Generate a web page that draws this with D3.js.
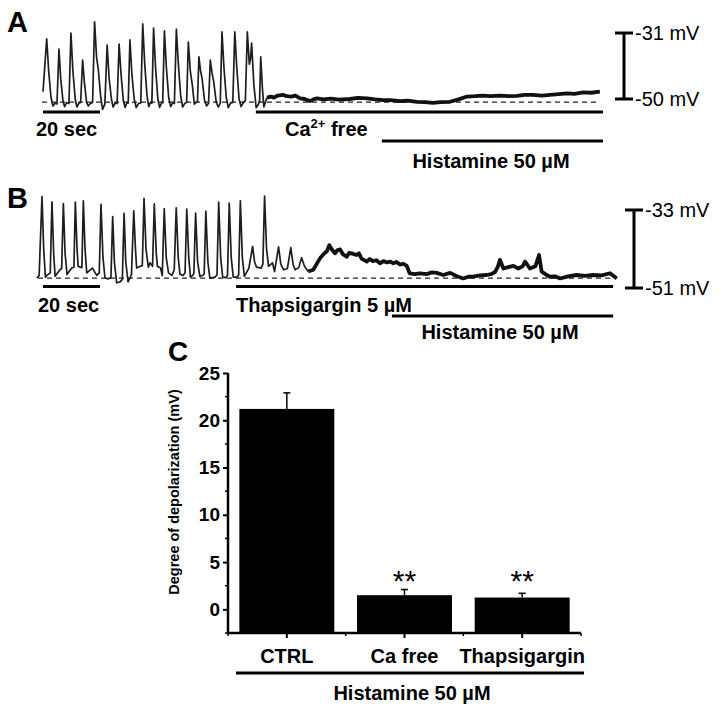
<!DOCTYPE html>
<html><head><meta charset="utf-8">
<script src="https://cdn.jsdelivr.net/npm/d3@7"></script>
<style>
body{margin:0;background:#fff}
svg{display:block;font-family:"Liberation Sans",Arial,sans-serif}
</style>
</head><body>
<svg id="fig" width="722" height="712"></svg>
<script>
// ---------------- DATA ----------------
// Panel A trace: [time (s), membrane potential (mV)]
const traceA_spikes = [
[0,-47.9],[1.3,-32.7],[2.0,-42.0],[2.8,-49.5],[3.5,-52.0],[4.2,-51.2],[4.9,-51.4],
[5.6,-35.6],[6.2,-44.0],[7.0,-50.5],[7.6,-52.2],[8.3,-51.0],[9.1,-51.3],
[9.8,-31.0],[10.5,-42.0],[11.3,-50.0],[11.9,-52.3],[12.6,-51.2],[13.2,-51.0],
[13.9,-38.8],[14.5,-45.0],[15.3,-51.0],[15.9,-52.0],[16.6,-51.3],[17.4,-51.0],
[18.1,-27.8],[18.8,-38.0],[19.4,-41.5],[20.2,-49.0],[20.9,-53.0],[21.7,-51.5],
[22.5,-34.5],[23.2,-44.0],[24.0,-50.0],[24.6,-52.3],[25.3,-51.2],[26.0,-51.3],
[26.7,-34.2],[27.4,-43.0],[28.2,-50.5],[28.8,-52.4],[29.5,-51.0],[29.9,-51.2],
[30.5,-33.0],[31.2,-43.0],[32.0,-50.0],[32.7,-52.5],[33.5,-51.3],[34.3,-51.1],
[35.0,-28.4],[35.7,-40.0],[36.5,-49.0],[37.1,-52.2],[37.7,-51.0],[38.2,-51.2],
[38.8,-29.6],[39.5,-41.0],[40.3,-50.0],[40.9,-52.4],[41.6,-51.2],[42.0,-51.0],
[42.6,-30.4],[43.3,-41.0],[44.1,-49.5],[44.8,-52.2],[45.6,-51.0],[46.1,-51.3],
[46.8,-29.9],[47.5,-40.0],[48.3,-49.0],[49.0,-52.3],[49.8,-51.2],[50.4,-51.0],
[51.0,-33.6],[51.7,-42.0],[52.4,-46.0],[53.1,-51.5],[53.8,-51.0],[54.2,-50.8],
[54.7,-37.9],[55.3,-42.0],[55.8,-44.0],[56.7,-50.5],[57.4,-52.0],[58.1,-51.2],
[58.7,-38.8],[59.3,-42.5],[59.9,-45.0],[60.8,-51.0],[61.5,-52.3],[62.2,-51.2],
[62.8,-30.7],[63.5,-41.0],[64.3,-49.5],[65.0,-52.5],[65.8,-51.2],[66.6,-51.0],
[67.3,-30.7],[68.0,-41.0],[68.8,-50.0],[69.5,-52.2],[70.3,-51.0],[71.0,-50.5],
[71.7,-30.7],[72.4,-40.0],[72.8,-38.5],[73.2,-33.9],[74.0,-46.0],[74.8,-52.5],[75.6,-51.5],[76.0,-50.5],
[76.4,-37.9],[77.0,-47.0],[77.5,-52.3],[78.0,-51.0],[78.6,-49.6]
];
const traceA_flat = [
[78.6,-49.6],[80.0,-49.3],[81.0,-49.6],[82.4,-49.0],[84.2,-48.8],[85.5,-49.2],[87.0,-49.3],[88.6,-49.0],
[90.2,-49.8],[91.8,-50.0],[93.7,-50.6],[94.9,-50.1],[96.1,-49.8],[98.5,-50.1],[101.0,-49.9],[104.0,-50.2],
[107.7,-50.0],[110.5,-49.7],[113.7,-49.8],[116.5,-50.1],[119.3,-50.3],[122.0,-50.3],[125.3,-50.6],
[128.0,-50.5],[131.2,-50.8],[134.0,-50.9],[136.8,-51.1],[139.5,-50.9],[142.8,-50.8],[145.8,-50.1],
[148.8,-49.3],[151.5,-49.2],[154.4,-49.0],[157.0,-49.2],[160.4,-49.0],[163.5,-49.2],[166.3,-49.1],
[169.0,-48.8],[171.9,-48.8],[175.0,-49.0],[177.9,-48.8],[181.0,-48.6],[183.9,-48.4],[186.5,-48.5],
[189.5,-48.1],[192.3,-48.2],[195.4,-47.9]
];
const baselineA = -50.9;
const scaleBarA = [-31, -50];
const annotA = [
  {label:"20 sec", t0:0, t1:20, row:0},
  {label:"Ca free", t0:74.7, t1:196.5, row:0},
  {label:"Histamine 50 µM", t0:118.9, t1:196.5, row:1}
];

// Panel B trace
const traceB_spikes = [
[-0.4,-48.7],[0.4,-48.1],[1.4,-29.9],[2.0,-42.0],[2.6,-48.5],[3.1,-48.1],[4.3,-47.5],
[4.9,-31.1],[5.5,-43.0],[6.0,-48.3],[7.7,-46.8],[8.3,-46.5],
[8.9,-31.5],[9.5,-43.0],[10.2,-47.9],[11.8,-46.4],[12.6,-46.2],
[13.1,-31.2],[13.7,-42.0],[14.1,-46.0],[15.4,-46.3],
[15.9,-30.9],[16.5,-42.0],[17.1,-47.5],[19.1,-46.4],[20.6,-48.1],[21.5,-47.5],
[22.1,-31.7],[22.8,-44.0],[23.5,-48.7],[24.6,-48.9],[25.6,-48.5],
[26.2,-34.5],[26.8,-45.0],[27.6,-49.8],[28.8,-49.6],[29.6,-49.0],
[30.2,-33.8],[30.8,-45.0],[31.6,-49.6],[32.8,-47.9],
[33.6,-33.2],[34.2,-42.0],[34.6,-46.4],[35.8,-46.0],[36.6,-45.8],
[37.2,-30.3],[37.9,-42.0],[38.7,-46.2],[39.3,-45.2],[40.2,-46.0],
[40.8,-31.6],[41.5,-43.0],[41.9,-46.0],[43.0,-46.4],[43.6,-48.1],
[44.3,-32.7],[45.0,-44.0],[45.8,-47.5],[47.0,-48.1],[47.8,-46.8],
[48.5,-32.5],[49.2,-44.0],[49.8,-47.8],[50.9,-48.1],[51.6,-47.5],
[52.2,-32.8],[52.9,-44.0],[53.5,-48.5],[54.3,-48.1],[54.7,-47.6],
[55.3,-33.7],[56.0,-45.0],[56.8,-48.3],[57.8,-48.1],[58.3,-47.8],
[58.9,-33.3],[59.6,-45.0],[60.3,-48.7],[62.1,-48.5],[62.8,-48.0],
[63.4,-31.2],[64.1,-44.0],[64.8,-48.5],[66.0,-48.6],[66.5,-48.0],
[67.1,-31.4],[67.8,-44.0],[68.5,-48.5],[69.9,-48.5],[70.4,-48.0],
[71.0,-30.9],[71.7,-44.0],[72.4,-48.3],[74.0,-46.4],
[75.3,-41.4],[76.0,-45.0],[76.7,-46.2],[78.3,-46.4],[78.9,-45.5],
[79.5,-29.8],[80.2,-42.0],[80.9,-46.0],[82.3,-45.2],[83.0,-47.2],
[84.4,-41.5],[85.2,-45.5],[86.2,-46.8],[87.5,-46.5],
[88.7,-41.7],[89.5,-45.5],[90.2,-46.8],[91.5,-46.3],
[92.5,-44.0],[93.5,-46.0],[94.8,-47.2]
];
const traceB_flat = [
[94.8,-47.2],[96.6,-46.8],[98.0,-45.2],[99.0,-44.1],[100.5,-43.0],[101.3,-42.6],[102.2,-41.1],[103.0,-42.0],
[104.2,-43.0],[105.0,-42.3],[106.0,-42.1],[107.0,-43.2],[108.3,-43.8],[109.2,-42.9],[110.0,-43.0],
[111.8,-43.4],[112.6,-43.0],[113.5,-44.2],[115.4,-44.9],[116.4,-44.3],[117.5,-44.8],[118.7,-44.6],
[120.0,-45.3],[121.2,-44.8],[122.5,-45.1],[123.6,-44.9],[124.7,-45.3],[125.8,-45.0],[127.0,-45.6],
[128.2,-45.4],[129.4,-45.9],[130.4,-47.6],[132.2,-47.8],[134.0,-47.6],[136.4,-47.8],[138.2,-47.4],
[139.9,-47.5],[142.2,-48.0],[144.6,-47.5],[147.0,-48.3],[149.2,-48.8],[151.0,-48.4],[153.0,-48.3],
[155.2,-48.1],[157.4,-48.0],[159.0,-47.8],[160.4,-47.3],[161.4,-46.0],[162.1,-44.5],[163.3,-46.5],
[165.0,-46.2],[166.8,-45.9],[168.5,-46.5],[170.0,-46.0],[170.9,-44.9],[172.6,-46.5],[174.5,-46.0],
[175.8,-43.4],[176.7,-47.2],[178.0,-47.8],[179.6,-48.4],[181.4,-48.3],[183.2,-48.8],[186.0,-48.3],
[189.0,-48.0],[192.0,-48.2],[194.8,-48.0],[197.8,-48.1],[200.7,-47.6],[203.1,-48.8]
];
const baselineB = -48.7;
const scaleBarB = [-33, -51];
const annotB = [
  {label:"20 sec", t0:1.75, t1:21.75, row:0},
  {label:"Thapsigargin 5 µM", t0:69.5, t1:201.8, row:0},
  {label:"Histamine 50 µM", t0:124.2, t1:201.8, row:1}
];

// Panel C bar chart
const categories = ["CTRL", "Ca free", "Thapsigargin"];
const means = [21.2, 1.5, 1.25];
const sems = [1.7, 0.6, 0.45];
const significance = ["", "**", "**"];
const yTicks = [0, 5, 10, 15, 20, 25];
const yMinor = [-2.5, 2.5, 7.5, 12.5, 17.5, 22.5];

// ---------------- DRAW ----------------
const svg = d3.select("#fig");
const BOLD = "bold";

function panel(cfg){
  const g = svg.append("g");
  const x = d3.scaleLinear().domain(cfg.tDomain).range(cfg.xRange);
  const y = d3.scaleLinear().domain(cfg.vDomain).range(cfg.yRange);
  const line = d3.line().x(d=>x(d[0])).y(d=>y(d[1]));
  g.append("line").attr("x1", cfg.dashX[0]).attr("x2", cfg.dashX[1])
    .attr("y1", y(cfg.baseline)).attr("y2", y(cfg.baseline))
    .attr("stroke","#222").attr("stroke-width",1.2).attr("stroke-dasharray","5,4");
  g.append("path").datum(cfg.spikes).attr("d", line).attr("fill","none")
    .attr("stroke","#1e1e1e").attr("stroke-width",1.7).attr("stroke-linejoin","round");
  g.append("path").datum(cfg.flat).attr("d", line).attr("fill","none")
    .attr("stroke","#111").attr("stroke-width",3.8).attr("stroke-linejoin","round");
  const sb = g.append("g");
  sb.append("line").attr("x1",cfg.sbX).attr("x2",cfg.sbX)
    .attr("y1",y(cfg.sb[0])).attr("y2",y(cfg.sb[1])).attr("stroke","#000").attr("stroke-width",3);
  cfg.sb.forEach(v=>{
    sb.append("line").attr("x1",cfg.sbX-9).attr("x2",cfg.sbX+9)
      .attr("y1",y(v)).attr("y2",y(v)).attr("stroke","#000").attr("stroke-width",3);
    sb.append("text").attr("x",cfg.sbX+11).attr("y",y(v)+7)
      .attr("font-size",20).attr("fill","#000").text(v+" mV");
  });
  cfg.annot.forEach((a,i)=>{
    const yy = cfg.rowY[a.row];
    g.append("line").attr("x1",x(a.t0)).attr("x2",x(a.t1)).attr("y1",yy).attr("y2",yy)
      .attr("stroke","#000").attr("stroke-width",3);
    const t = g.append("text").attr("font-size",20).attr("font-weight",BOLD).attr("fill","#000");
    const lp = cfg.labelPos[i];
    t.attr("x", lp[0]).attr("y", lp[1]).attr("text-anchor", lp[2]);
    if (a.label === "Ca free") {
      t.append("tspan").text("Ca");
      t.append("tspan").attr("font-size",13).attr("dy",-8).text("2+");
      t.append("tspan").attr("dy",8).text(" free");
    } else t.text(a.label);
  });
  g.append("text").attr("x",cfg.letter[0]).attr("y",cfg.letter[1]).attr("font-size",29)
    .attr("font-weight",BOLD).text(cfg.letter[2]);
  return {x,y};
}

panel({tDomain:[0,196.5], xRange:[43,603], vDomain:[-50,-31], yRange:[99,33],
  spikes:traceA_spikes, flat:traceA_flat, baseline:baselineA, dashX:[42,600],
  sb:scaleBarA, sbX:624, annot:annotA, rowY:[112,141],
  labelPos:[[36,136,"start"],[285,136,"start"],[491,168,"middle"]],
  letter:[7,32,"A"]});

panel({tDomain:[0,202], xRange:[38,613.7], vDomain:[-51,-33], yRange:[288,210],
  spikes:traceB_spikes, flat:traceB_flat, baseline:baselineB, dashX:[38,613],
  sb:scaleBarB, sbX:634, annot:annotB, rowY:[286.5,316],
  labelPos:[[38,312,"start"],[236,312,"start"],[500,339,"middle"]],
  letter:[7,208,"B"]});

// ---- Panel C ----
const gc = svg.append("g");
const xb = d3.scaleBand().domain(categories).range([228,581]).paddingInner(0.193).paddingOuter(0.0965);
const yb = d3.scaleLinear().domain([-2.5,25]).range([633,373]);

gc.selectAll("rect.bar").data(categories).join("rect").attr("class","bar")
  .attr("x",d=>xb(d)).attr("width",xb.bandwidth())
  .attr("y",(d,i)=>yb(means[i])).attr("height",(d,i)=>yb(-2.5)-yb(means[i]))
  .attr("fill","#000");
categories.forEach((c,i)=>{
  const cx = xb(c)+xb.bandwidth()/2;
  gc.append("line").attr("x1",cx).attr("x2",cx).attr("y1",yb(means[i])).attr("y2",yb(means[i]+sems[i]))
    .attr("stroke","#000").attr("stroke-width",1.5);
  gc.append("line").attr("x1",cx-3.5).attr("x2",cx+3.5).attr("y1",yb(means[i]+sems[i])).attr("y2",yb(means[i]+sems[i]))
    .attr("stroke","#000").attr("stroke-width",1.5);
  if (significance[i]) {
    gc.append("text").attr("x",cx).attr("y",yb(2.1)+1).attr("text-anchor","middle")
      .attr("font-size",30).text(significance[i]);
  }
});
const yAxis = gc.append("g").attr("transform","translate(228,0)")
  .call(d3.axisLeft(yb).tickValues(yTicks).tickSize(5).tickPadding(3).tickFormat(d3.format("d")));
yAxis.select(".domain").remove();
yAxis.selectAll(".tick line").attr("stroke-width",2);
yAxis.selectAll(".tick text").attr("font-size",19).attr("font-weight",BOLD)
  .attr("font-family","Liberation Sans, Arial, sans-serif").attr("fill","#000");
gc.selectAll("line.ym").data(yMinor).join("line").attr("class","ym")
  .attr("x1",225).attr("x2",228).attr("y1",d=>yb(d)).attr("y2",d=>yb(d))
  .attr("stroke","#000").attr("stroke-width",1.5);
gc.append("line").attr("x1",228).attr("x2",228).attr("y1",yb(25)).attr("y2",yb(-2.5)+1)
  .attr("stroke","#000").attr("stroke-width",2.5);
const xAxis = gc.append("g").attr("transform","translate(0,633)")
  .call(d3.axisBottom(xb).tickSize(5).tickPadding(11));
xAxis.select(".domain").remove();
xAxis.selectAll(".tick line").attr("stroke-width",2);
xAxis.selectAll(".tick text").attr("font-size",20).attr("font-weight",BOLD)
  .attr("font-family","Liberation Sans, Arial, sans-serif").attr("fill","#000");
gc.append("line").attr("x1",227).attr("x2",581).attr("y1",633).attr("y2",633)
  .attr("stroke","#000").attr("stroke-width",2.5);
const step = xb.step();
gc.selectAll("line.xm").data(d3.range(4)).join("line").attr("class","xm")
  .attr("x1",d=>228+d*step).attr("x2",d=>228+d*step).attr("y1",633).attr("y2",636)
  .attr("stroke","#000").attr("stroke-width",1.5);
gc.append("line").attr("x1",236).attr("x2",584).attr("y1",673).attr("y2",673)
  .attr("stroke","#000").attr("stroke-width",3);
gc.append("text").attr("x",412).attr("y",700).attr("text-anchor","middle")
  .attr("font-size",20).attr("font-weight",BOLD).text("Histamine 50 µM");
gc.append("text").attr("transform","translate(179,492) rotate(-90)").attr("text-anchor","middle")
  .attr("font-size",14.5).attr("font-weight",BOLD).text("Degree of depolarization (mV)");
gc.append("text").attr("x",168).attr("y",361).attr("font-size",28).attr("font-weight",BOLD).text("C");
</script>
</body></html>
